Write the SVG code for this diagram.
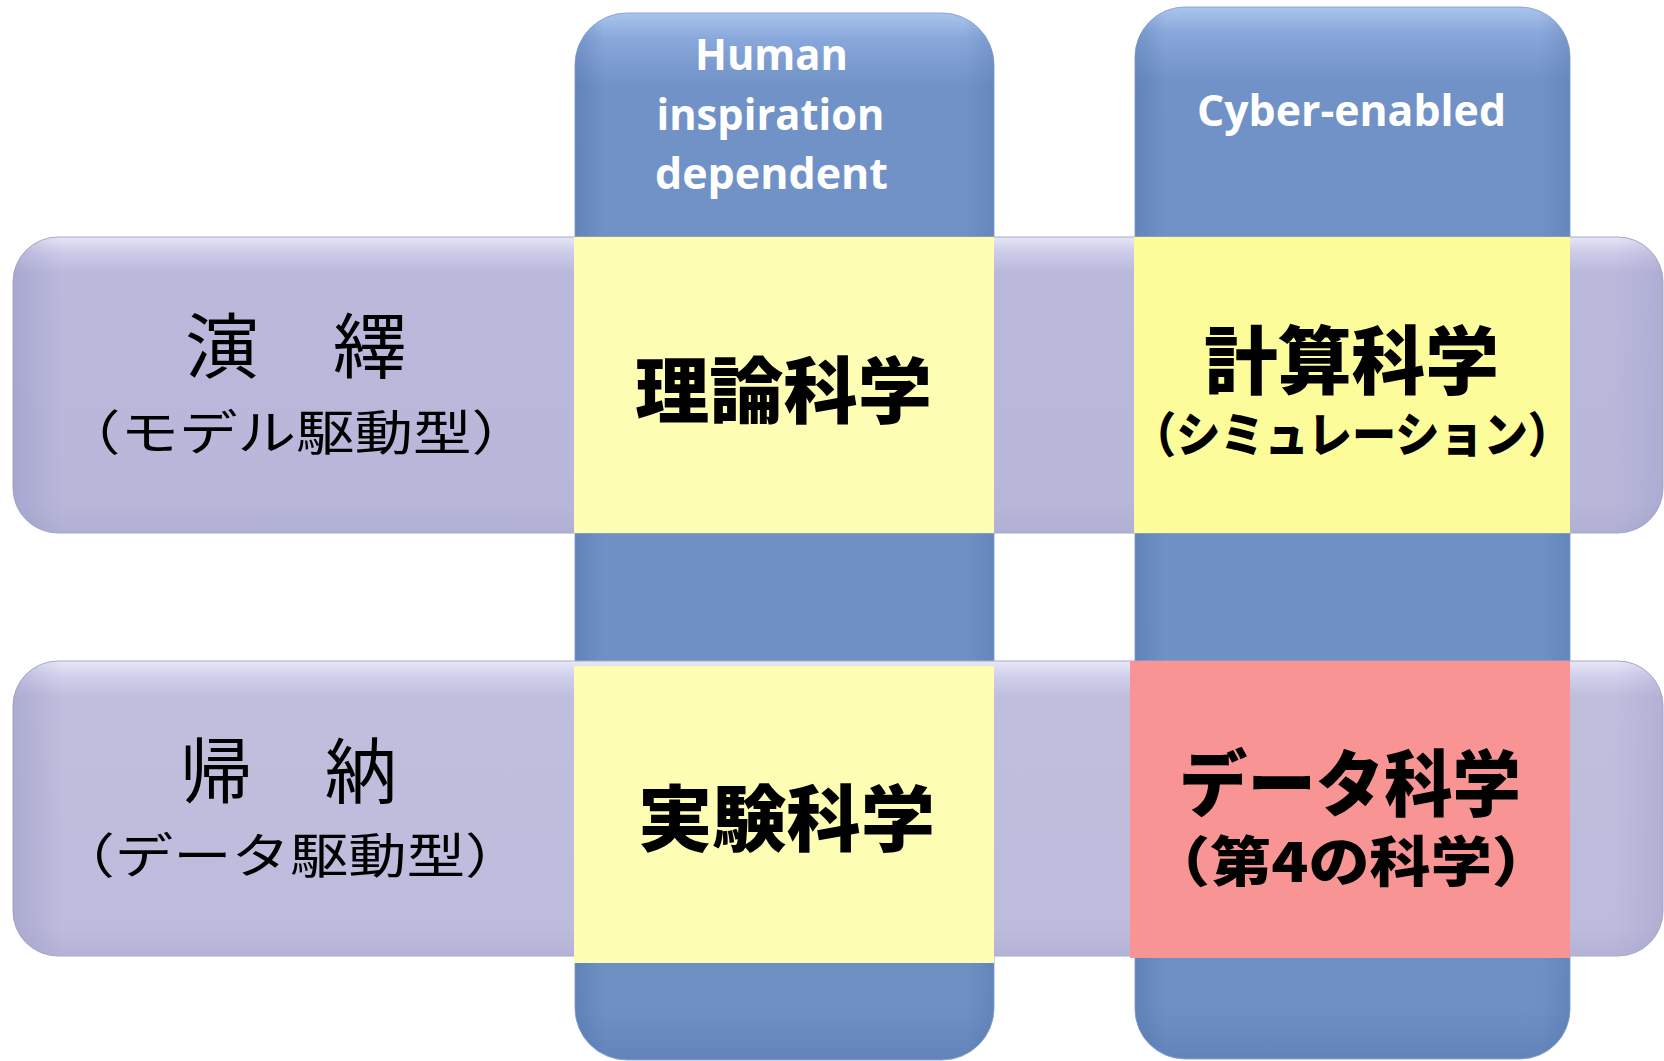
<svg xmlns="http://www.w3.org/2000/svg" width="1664" height="1061" viewBox="0 0 1664 1061">
<defs>
  <linearGradient id="bandV1" x1="0" y1="0" x2="0" y2="1">
    <stop offset="0" stop-color="#e6e6f7"/>
    <stop offset="0.05" stop-color="#cdcce9"/>
    <stop offset="0.12" stop-color="#bab9dc"/>
    <stop offset="0.9" stop-color="#b8b7da"/>
    <stop offset="1" stop-color="#b0afd4"/>
  </linearGradient>
  <linearGradient id="bandV2" x1="0" y1="0" x2="0" y2="1">
    <stop offset="0" stop-color="#e8e8f8"/>
    <stop offset="0.05" stop-color="#d1d0ec"/>
    <stop offset="0.12" stop-color="#bfbedd"/>
    <stop offset="0.9" stop-color="#bdbcdc"/>
    <stop offset="1" stop-color="#b4b3d6"/>
  </linearGradient>
  <linearGradient id="bandEdge" x1="0" y1="0" x2="1" y2="0">
    <stop offset="0" stop-color="#6a69a8" stop-opacity="0.22"/>
    <stop offset="0.03" stop-color="#6a69a8" stop-opacity="0"/>
    <stop offset="0.97" stop-color="#6a69a8" stop-opacity="0"/>
    <stop offset="1" stop-color="#6a69a8" stop-opacity="0.15"/>
  </linearGradient>
  <linearGradient id="colV" x1="0" y1="0" x2="0" y2="1">
    <stop offset="0" stop-color="#a9c4ee"/>
    <stop offset="0.025" stop-color="#88a7da"/>
    <stop offset="0.07" stop-color="#7192c6"/>
    <stop offset="0.95" stop-color="#6f90c3"/>
    <stop offset="1" stop-color="#6384bb"/>
  </linearGradient>
  <linearGradient id="colH" x1="0" y1="0" x2="1" y2="0">
    <stop offset="0" stop-color="#3d5f99" stop-opacity="0.28"/>
    <stop offset="0.07" stop-color="#3d5f99" stop-opacity="0"/>
    <stop offset="0.93" stop-color="#3d5f99" stop-opacity="0"/>
    <stop offset="1" stop-color="#3d5f99" stop-opacity="0.22"/>
  </linearGradient>
  <style>
    .col { fill: url(#colV); stroke: #8ea6cf; stroke-width: 1; }
    .colShade { fill: url(#colH); }
    .band1 { fill: url(#bandV1); stroke: #a9a9cb; stroke-width: 1; }
    .band2 { fill: url(#bandV2); stroke: #a9a9cb; stroke-width: 1; }
    .bandShade { fill: url(#bandEdge); }
    .cellY { fill: #fefdb4; }
    .cellY2 { fill: #fdfc9a; }
    .cellP { fill: #f89494; }
    .hdr { font-family: "Open Sans", "Liberation Sans", sans-serif; font-weight: 700; font-size: 43px; fill: #ffffff; text-anchor: middle; }
    .jp { font-family: "Noto Sans CJK JP", sans-serif; font-weight: 400; fill: #000000; text-anchor: middle; }
    .jpb { font-family: "Noto Sans CJK JP", sans-serif; font-weight: 900; fill: #000000; text-anchor: middle; }
  </style>
</defs>
<rect width="1664" height="1061" fill="#ffffff"/>

<g id="col-human">
  <rect class="col" x="575" y="13" width="419" height="1047" rx="52" ry="52"/>
  <rect class="colShade" x="575" y="13" width="419" height="1047" rx="52" ry="52"/>
  <text class="hdr" x="771.5" y="70" textLength="153" lengthAdjust="spacingAndGlyphs">Human</text>
  <text class="hdr" x="770.5" y="130" textLength="228" lengthAdjust="spacingAndGlyphs">inspiration</text>
  <text class="hdr" x="771.5" y="189" textLength="233" lengthAdjust="spacingAndGlyphs">dependent</text>
</g>

<g id="col-cyber">
  <rect class="col" x="1135" y="7" width="435" height="1052" rx="50" ry="50"/>
  <rect class="colShade" x="1135" y="7" width="435" height="1052" rx="50" ry="50"/>
  <text class="hdr" x="1351.5" y="126" textLength="309" lengthAdjust="spacingAndGlyphs">Cyber-enabled</text>
</g>

<g id="row-deduction">
  <rect class="band1" x="13" y="237" width="1650" height="296" rx="45" ry="45"/>
  <rect class="bandShade" x="13" y="237" width="1650" height="296" rx="45" ry="45"/>
  <text class="jp" x="296" y="372" font-size="71" textLength="222" lengthAdjust="spacingAndGlyphs">演　繹</text>
  <text class="jp" x="296" y="450" font-size="48" textLength="468" lengthAdjust="spacingAndGlyphs">（モデル駆動型）</text>
</g>

<g id="row-induction">
  <rect class="band2" x="13" y="661" width="1650" height="295" rx="45" ry="45"/>
  <rect class="bandShade" x="13" y="661" width="1650" height="295" rx="45" ry="45"/>
  <text class="jp" x="288.5" y="797" font-size="71" textLength="217" lengthAdjust="spacingAndGlyphs">帰　納</text>
  <text class="jp" x="290" y="873" font-size="48" textLength="467" lengthAdjust="spacingAndGlyphs">（データ駆動型）</text>
</g>

<g id="cell-theoretical">
  <rect class="cellY" x="574" y="237" width="420" height="296"/>
  <text class="jpb" x="783.5" y="417" font-size="72" textLength="297" lengthAdjust="spacingAndGlyphs">理論科学</text>
</g>

<g id="cell-computational">
  <rect class="cellY2" x="1134" y="237" width="436" height="296"/>
  <text class="jpb" x="1351.5" y="388" font-size="74" textLength="295" lengthAdjust="spacingAndGlyphs">計算科学</text>
  <text class="jpb" x="1352" y="452" font-size="48" textLength="440" lengthAdjust="spacingAndGlyphs">（シミュレーション）</text>
</g>

<g id="cell-experimental">
  <rect class="cellY" x="574" y="666" width="420" height="297"/>
  <text class="jpb" x="786.5" y="845" font-size="72" textLength="297" lengthAdjust="spacingAndGlyphs">実験科学</text>
</g>

<g id="cell-data">
  <rect class="cellP" x="1130" y="661" width="440" height="297"/>
  <text class="jpb" x="1350" y="810" font-size="72" textLength="342" lengthAdjust="spacingAndGlyphs">データ科学</text>
  <text class="jpb" x="1351" y="882" font-size="54" textLength="404" lengthAdjust="spacingAndGlyphs">（第4の科学）</text>
</g>

<g id="connectors"/>
</svg>
